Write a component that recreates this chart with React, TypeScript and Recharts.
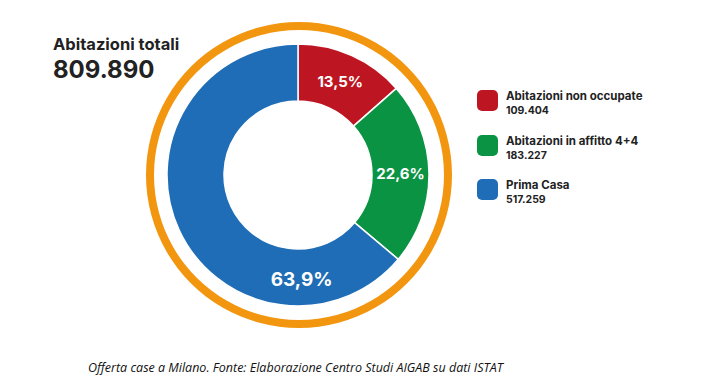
import { Cell, Pie, PieChart } from "recharts";

const categories = ["Abitazioni non occupate", "Abitazioni in affitto 4+4", "Prima Casa"];
const values = [109404, 183227, 517259];
const colors = ["#BD1622", "#0B9344", "#1F6DB6"];
const totalLabel = "Abitazioni totali";
const caption = "Offerta case a Milano. Fonte: Elaborazione Centro Studi AIGAB su dati ISTAT";

const total = values.reduce((a, b) => a + b, 0);
const fmtInt = (n: number) => n.toLocaleString("de-DE");
const fmtPct = (n: number) => ((n / total) * 100).toFixed(1).replace(".", ",") + "%";

const data = categories.map((name, i) => ({ name, value: values[i] }));
const ring = [{ name: "ring", value: 1 }];

const FONT = "Inter, 'Noto Sans', sans-serif";
const RAD = Math.PI / 180;

function renderLabel(p: any) {
  const big = p.index === 2;
  // the big slice's label sits at the bottom of the ring, not at its mid angle
  const ang = big ? -88 : p.midAngle;
  const r = (p.innerRadius + p.outerRadius) / 2 + (big ? 2 : 0);
  const x = p.cx + r * Math.cos(-ang * RAD);
  const y = p.cy + r * Math.sin(-ang * RAD);
  return (
    <text
      x={x}
      y={y}
      fill="#fff"
      textAnchor="middle"
      dominantBaseline="central"
      fontFamily={FONT}
      fontWeight={700}
      fontSize={big ? 19 : 15}
    >
      {fmtPct(p.value)}
    </text>
  );
}

export default function App() {
  return (
    <div style={{ position: "absolute", left: 0, top: 0, width: 708, height: 391, background: "#fff", fontFamily: FONT }}>
      <PieChart width={708} height={391} style={{ position: "absolute", left: 0, top: 0 }}>
        <Pie
          data={ring}
          dataKey="value"
          cx={294}
          cy={170}
          innerRadius={145}
          outerRadius={153}
          startAngle={90}
          endAngle={-270}
          stroke="none"
          fill="#F2960F"
          isAnimationActive={false}
        />
        <Pie
          data={data}
          dataKey="value"
          cx={293}
          cy={170}
          innerRadius={74}
          outerRadius={131}
          startAngle={90}
          endAngle={-270}
          stroke="#fff"
          strokeWidth={1.5}
          label={renderLabel}
          labelLine={false}
          isAnimationActive={false}
        >
          {data.map((d, i) => (
            <Cell key={d.name} fill={colors[i]} />
          ))}
        </Pie>
      </PieChart>

      <div style={{ position: "absolute", left: 53, top: 34, color: "#222", fontWeight: 700 }}>
        <div style={{ fontSize: 16.5, lineHeight: "20px" }}>{totalLabel}</div>
        <div style={{ fontSize: 24, lineHeight: "28px", marginTop: 2 }}>{fmtInt(total)}</div>
      </div>

      <div style={{ position: "absolute", left: 477, top: 89 }}>
        {data.map((d, i) => (
          <div key={d.name} style={{ display: "flex", alignItems: "flex-start", height: 44.5 }}>
            <div style={{ width: 21, height: 21, borderRadius: 5, background: colors[i], marginTop: 1 }} />
            <div style={{ marginLeft: 8, color: "#222", fontWeight: 700 }}>
              <div style={{ fontSize: 11.5, lineHeight: "14px" }}>{d.name}</div>
              <div style={{ fontSize: 10.5, lineHeight: "14px", marginTop: 1 }}>{fmtInt(d.value)}</div>
            </div>
          </div>
        ))}
      </div>

      <div
        style={{
          position: "absolute",
          left: 88,
          top: 359,
          fontSize: 12.5,
          fontStyle: "italic",
          fontFamily: "'Open Sans', sans-serif",
          color: "#111",
          whiteSpace: "nowrap",
        }}
      >
        {caption}
      </div>
    </div>
  );
}
